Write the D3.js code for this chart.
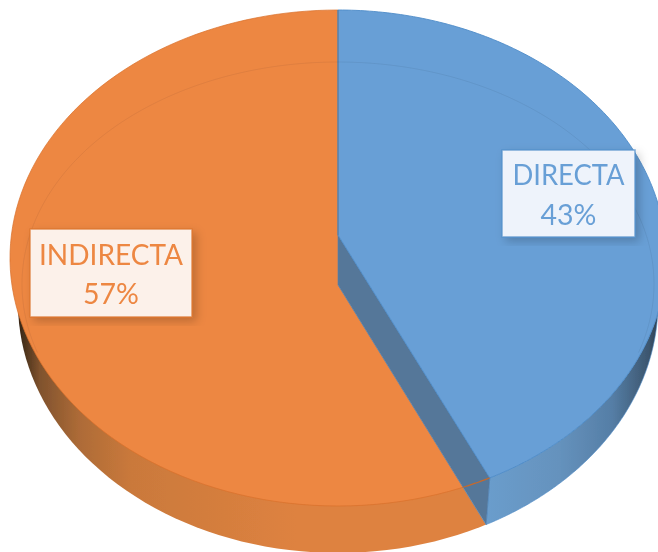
<!DOCTYPE html>
<html><head><meta charset="utf-8">
<script src="https://cdn.jsdelivr.net/npm/d3@7/dist/d3.min.js"></script>
<style>html,body{margin:0;padding:0;background:#fff;overflow:hidden}svg{display:block}</style>
</head><body><svg id="c" width="658" height="552"></svg>
<script>
const categories = ["DIRECTA", "INDIRECTA"];
const shares = [43, 57];
const sliceColors = ["#689FD6", "#ED8743"];
const edgeColors = ["#4F8CC8", "#D9712B"];
const labelFills = ["#EEF3FB", "#FCF1EA"];

const W = 658, H = 552, persp = 0.0927;
const svg = d3.select("#c").attr("viewBox", [0, 0, W, H]);
const x = d3.scaleLinear().domain([-1, 1]).range([10, 666]);
const y = d3.scaleLinear().domain([1, -1]).range([10, 506]);
// the lower face of the disc is seen slightly smaller than the upper one
const xLow = d3.scaleLinear().domain([-1, 1]).range([18, 658]);
const yLow = d3.scaleLinear().domain([1, -1]).range([53, 553]);
function project(a, sx = x, sy = y, r = 1) {
  const u = r * Math.sin(a), v = r * Math.cos(a);
  const d = 1 + persp * v;
  return [sx(u * Math.sqrt(1 - persp * persp) / d), sy((v + persp) / d)];
}
const low = a => project(a, xLow, yLow);
const samples = (a, b) => d3.range(0, 181).map(i => a + (b - a) * i / 180);
const line = d3.line();
const closed = pts => line(pts) + "Z";

const arcs = d3.pie().sort(null)(shares);
const split = arcs[0].endAngle;
const apex = project(0, x, y, 0), apexLow = [apex[0], apex[1] + 50];
const corner = project(split), cornerLow = low(split);
const topPt = project(0);

const defs = svg.append("defs");
function grad(id, stops) {
  const g = defs.append("linearGradient").attr("id", id).attr("gradientUnits", "userSpaceOnUse")
    .attr("x1", 0).attr("x2", W).attr("y1", 0).attr("y2", 0);
  stops.forEach(s => g.append("stop").attr("offset", s[0]).attr("stop-color", s[1]));
}
grad("sideO", [[0.03, "#3a2817"], [0.06, "#7f522d"], [0.12, "#ad6b37"], [0.2, "#ca793b"], [0.45, "#DE8240"]]);
grad("sideB", [[0.74, "#6a9dcc"], [0.85, "#6592bd"], [0.93, "#557ea6"], [0.985, "#3d5770"], [1, "#2f4255"]]);
const sh = defs.append("filter").attr("id", "shadow").attr("x", "-20%").attr("y", "-20%").attr("width", "150%").attr("height", "150%");
sh.append("feDropShadow").attr("dx", 4).attr("dy", 4).attr("stdDeviation", 5).attr("flood-color", "#000").attr("flood-opacity", 0.2);
defs.append("filter").attr("id", "soft").append("feGaussianBlur").attr("stdDeviation", 0.55);

const dirX = cornerLow[0] - apexLow[0], dirY = cornerLow[1] - apexLow[1];
const far = [apexLow[0] + dirX * 1.5, apexLow[1] + dirY * 1.5];
defs.append("clipPath").attr("id", "leftOf").append("path")
  .attr("d", closed([[topPt[0], 0], topPt, apexLow, far, [0, far[1]], [0, 0]]));
defs.append("clipPath").attr("id", "wall").append("path")
  .attr("d", closed([apex, apexLow, cornerLow, corner]));

const root = svg.append("g").attr("filter", "url(#soft)");

// ---- orange slice
const orange = root.append("g").attr("clip-path", "url(#leftOf)");
const rim = samples(0, 2 * Math.PI).map(a => project(a));
orange.append("path").attr("d", closed(samples(0, 2 * Math.PI).map(low)))
  .attr("fill", "url(#sideO)");
orange.append("path").attr("d", closed(rim)).attr("fill", sliceColors[1])
  .attr("stroke", edgeColors[1]).attr("stroke-opacity", 0.8).attr("stroke-width", 0.9);

// ---- blue slice
const blue = root.append("g");
blue.append("path").attr("d", closed(samples(split, Math.PI / 2).map(low).concat(samples(Math.PI / 2, split).map(a => project(a)))))
  .attr("fill", "url(#sideB)").attr("stroke", "#4F8CC8").attr("stroke-width", 0.6);
blue.append("path").attr("d", closed([apex, apexLow, cornerLow, corner]))
  .attr("fill", "#557799").attr("stroke", "#4F7FB0").attr("stroke-width", 0.6);
blue.append("path").attr("d", closed([apex].concat(samples(0, split).map(a => project(a)))))
  .attr("fill", sliceColors[0]).attr("stroke", edgeColors[0]).attr("stroke-width", 0.9);
root.append("path").attr("d", line([topPt, apex])).attr("stroke", "#5e7f9f").attr("stroke-width", 1.2).attr("fill", "none");

// orange rim seen across the wall
root.append("path").attr("clip-path", "url(#wall)").attr("fill", "none")
  .attr("d", line(samples(Math.PI * 0.7, Math.PI * 0.95).map(a => project(a))))
  .attr("stroke", "#C8692A").attr("stroke-width", 1.2);

// faint inner ellipse
const innerX = d3.scaleLinear().domain([-1, 1]).range([22, 654]);
const innerY = d3.scaleLinear().domain([1, -1]).range([62, 506]);
const inner = samples(-Math.PI * 0.6, Math.PI * 0.6).map(a => [innerX(Math.sin(a)), innerY(Math.cos(a))]);
root.append("path").attr("d", line(inner)).attr("fill", "none")
  .attr("stroke", "#000").attr("stroke-opacity", 0.06).attr("stroke-width", 1);

// ---- labels
const boxes = [[502, 150, 133, 87], [30, 229, 162, 88]];
const baselines = [[185, 225], [265, 304]];
const textW = [112, 144];
categories.forEach((c, i) => {
  const [bx, by, bw, bh] = boxes[i];
  const g = svg.append("g").attr("filter", "url(#soft)");
  g.append("rect").attr("x", bx).attr("y", by).attr("width", bw).attr("height", bh)
    .attr("fill", labelFills[i]).attr("stroke", edgeColors[i]).attr("stroke-opacity", 0.75).attr("stroke-width", 1.5)
    .attr("filter", "url(#shadow)");
  const t = g.append("g").attr("text-anchor", "middle").attr("fill", sliceColors[i])
    .attr("font-family", "Lato, 'Open Sans', sans-serif").attr("font-size", 28.5);
  t.append("text").attr("x", bx + bw / 2).attr("y", baselines[i][0]).text(c)
    .attr("textLength", textW[i]).attr("lengthAdjust", "spacingAndGlyphs");
  t.append("text").attr("x", bx + bw / 2).attr("y", baselines[i][1]).text(shares[i] + "%");
});
</script></body></html>
